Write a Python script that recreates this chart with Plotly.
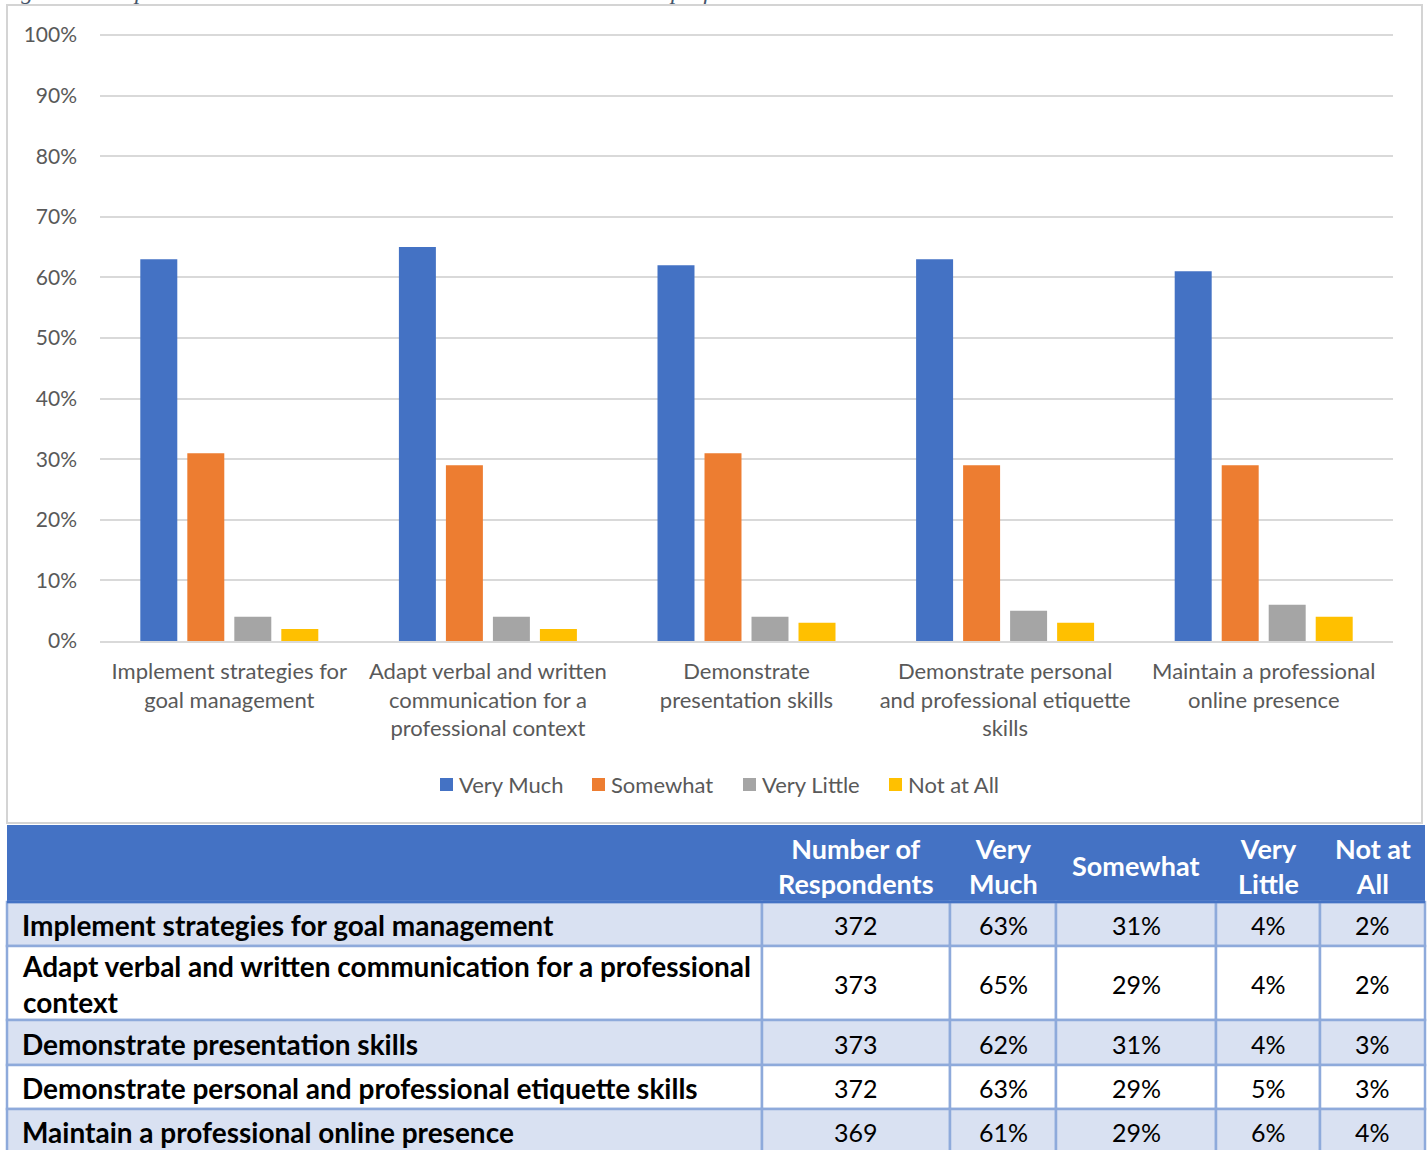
import plotly.graph_objects as go

# Survey items (chart categories use line breaks, table rows use full text)
categories = [
    "Implement strategies for<br>goal management",
    "Adapt verbal and written<br>communication for a<br>professional context",
    "Demonstrate<br>presentation skills",
    "Demonstrate personal<br>and professional etiquette<br>skills",
    "Maintain a professional<br>online presence",
]
row_labels = [
    "Implement strategies for goal management",
    "Adapt verbal and written communication for a professional<br>context",
    "Demonstrate presentation skills",
    "Demonstrate personal and professional etiquette skills",
    "Maintain a professional online presence",
]
respondents = [372, 373, 373, 372, 369]

series_names = ["Very Much", "Somewhat", "Very Little", "Not at All"]
very_much = [63, 65, 62, 63, 61]
somewhat = [31, 29, 31, 29, 29]
very_little = [4, 4, 4, 5, 6]
not_at_all = [2, 2, 3, 3, 4]
series_values = [very_much, somewhat, very_little, not_at_all]
series_colors = ["#4472C4", "#ED7D31", "#A5A5A5", "#FFC000"]

table_headers = ["", "Number of<br>Respondents", "Very<br>Much", "Somewhat", "Very<br>Little", "Not at<br>All"]

W, H = 1427, 1150
FONT = "Lato"


def fx(px):
    return px / W


def fy(py):
    return 1 - py / H


fig = go.Figure()

for name, vals, color in zip(series_names, series_values, series_colors):
    fig.add_trace(go.Bar(
        name=name, x=categories, y=vals,
        marker=dict(color=color, line=dict(width=0)),
        hoverinfo="skip", showlegend=False,
    ))

shapes = []
annotations = []

# chart frame
shapes.append(dict(type="rect", xref="paper", yref="paper",
                   x0=fx(7), x1=fx(1422), y0=fy(823), y1=fy(5),
                   line=dict(color="#D4D4D4", width=2), fillcolor="rgba(0,0,0,0)", layer="below"))

# caption above the frame (runs off the top of the page)
annotations.append(dict(
    text="<i>Figure 29 Respondents who indicated PVCC had contributed to their professional readiness</i>",
    xref="paper", yref="paper", x=fx(-3), y=fy(6), xanchor="left", yanchor="bottom",
    showarrow=False, font=dict(family="Liberation Serif", size=24, color="#44546A"),
))

# legend drawn as swatches + labels
legend_box_x = [440, 592, 743, 889]
for name, color, bx in zip(series_names, series_colors, legend_box_x):
    shapes.append(dict(type="rect", xref="paper", yref="paper",
                       x0=fx(bx), x1=fx(bx + 13), y0=fy(791), y1=fy(778),
                       line=dict(width=0), fillcolor=color))
    annotations.append(dict(
        text=name, xref="paper", yref="paper", x=fx(bx + 17), y=fy(784),
        xanchor="left", yanchor="middle", showarrow=False,
        font=dict(family=FONT, size=22, color="#595959"),
    ))

# ---- table ----
col_edges = [7, 762, 950, 1056, 1216, 1320, 1425]
row_edges = [825, 902, 946, 1020, 1065, 1109, 1153]
border = "#8EAADB"

# header background
shapes.append(dict(type="rect", xref="paper", yref="paper",
                   x0=fx(col_edges[0]), x1=fx(col_edges[-1]),
                   y0=fy(row_edges[1]), y1=fy(row_edges[0]),
                   line=dict(width=0), fillcolor="#4472C4"))

for r in range(len(row_labels)):
    y_top, y_bot = row_edges[r + 1], row_edges[r + 2]
    fill = "#D9E1F2" if r % 2 == 0 else "#FFFFFF"
    for c in range(len(col_edges) - 1):
        shapes.append(dict(type="rect", xref="paper", yref="paper",
                           x0=fx(col_edges[c]), x1=fx(col_edges[c + 1]),
                           y0=fy(y_bot), y1=fy(y_top),
                           line=dict(color=border, width=2.5), fillcolor=fill))

# header bottom rule
shapes.append(dict(type="line", xref="paper", yref="paper",
                   x0=fx(col_edges[0]), x1=fx(col_edges[-1]),
                   y0=fy(row_edges[1]), y1=fy(row_edges[1]),
                   line=dict(color="#4472C4", width=2.5)))

# header text
for c in range(1, len(table_headers)):
    xc = (col_edges[c] + col_edges[c + 1]) / 2
    annotations.append(dict(
        text="<b>%s</b>" % table_headers[c], xref="paper", yref="paper",
        x=fx(xc), y=fy((row_edges[0] + row_edges[1]) / 2 + 2),
        xanchor="center", yanchor="middle", showarrow=False, align="center",
        font=dict(family=FONT, size=27, color="#FFFFFF"),
    ))

# body text
for r in range(len(row_labels)):
    yc = (row_edges[r + 1] + row_edges[r + 2]) / 2 + 1
    annotations.append(dict(
        text="<b>%s</b>" % row_labels[r], xref="paper", yref="paper",
        x=fx(20), y=fy(yc), xanchor="left", yanchor="middle",
        showarrow=False, align="left",
        font=dict(family=FONT, size=28, color="#000000"),
    ))
    cells = [str(respondents[r])] + ["%d%%" % s[r] for s in series_values]
    for c, txt in enumerate(cells, start=1):
        xc = (col_edges[c] + col_edges[c + 1]) / 2
        annotations.append(dict(
            text=txt, xref="paper", yref="paper",
            x=fx(xc), y=fy(yc), xanchor="center", yanchor="middle",
            showarrow=False, font=dict(family=FONT, size=25, color="#000000"),
        ))

# y range padded by 1 so the 100% gridline is drawn; domain top placed so 100% lands at y=35px
px_per_unit = (641 - 35) / 100.0
fig.update_layout(
    width=W, height=H,
    margin=dict(l=0, r=0, t=0, b=0, autoexpand=False),
    paper_bgcolor="#FFFFFF", plot_bgcolor="#FFFFFF",
    barmode="group", bargap=0.273, bargroupgap=0.213,
    font=dict(family=FONT, color="#595959"),
    xaxis=dict(domain=[fx(100), fx(1393)], showgrid=False, showline=True,
               linecolor="#D9D9D9", linewidth=1.5, ticks="",
               tickfont=dict(size=22, color="#595959"), ticklabelstandoff=10,
               fixedrange=True, automargin=False),
    yaxis=dict(domain=[fy(641), fy(35 - px_per_unit)], range=[0, 101], dtick=10,
               ticksuffix="%", showgrid=True, gridcolor="#D9D9D9", gridwidth=1.5,
               zeroline=False, showline=False, ticks="",
               tickfont=dict(size=21, color="#595959"), ticklabelstandoff=22,
               fixedrange=True, automargin=False),
    showlegend=False,
    shapes=shapes,
    annotations=annotations,
)

fig.write_html("out.html")
